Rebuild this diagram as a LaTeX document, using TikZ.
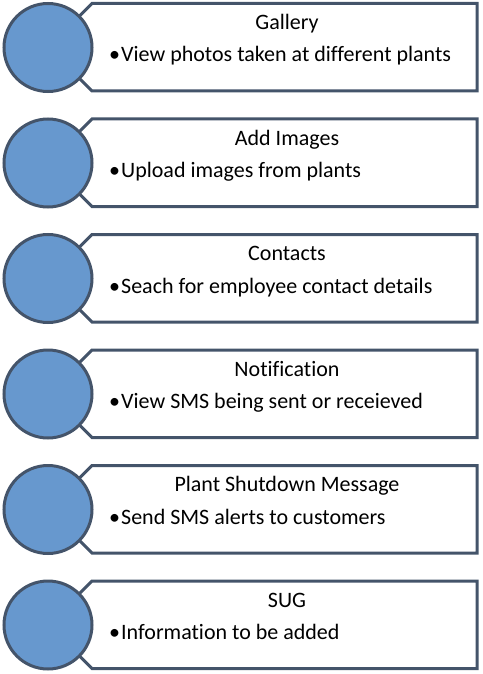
\documentclass[tikz,border=0pt]{standalone}
\usepackage{fontspec}
\setmainfont{Carlito}[Ligatures=NoCommon]
\definecolor{slate}{RGB}{68,84,106}
\definecolor{discblue}{RGB}{103,152,206}
\begin{document}
\begin{tikzpicture}[x=1pt,y=1pt,
  frame/.style={draw=slate, line width=3pt, fill=white, line join=miter},
  disc/.style={circle, draw=slate, line width=3pt, fill=discblue,
    minimum size=88pt, inner sep=0pt},
  heading/.style={anchor=base, font=\fontsize{22}{26}\selectfont, inner sep=0pt},
  item/.style={anchor=base west, font=\fontsize{22}{26}\selectfont, inner sep=0pt}]
\useasboundingbox (0,0) rectangle (482,-674);
\foreach \i/\head/\txt in {
  1/Gallery/View photos taken at different plants,
  2/Add Images/Upload images from plants,
  3/Contacts/Seach for employee contact details,
  4/Notification/View SMS being sent or receieved,
  5/Plant Shutdown Message/Send SMS alerts to customers,
  6/SUG/Information to be added}{
  \pgfmathsetmacro{\yc}{-47.5-(\i-1)*115.5}
  % label box with chamfered left corners, tucked behind the disc
  \draw[frame] (92,\yc+44) -- (477,\yc+44) -- (477,\yc-43.5) -- (92,\yc-43.5)
    -- (60,\yc-11.5) -- (60,\yc+12) -- cycle;
  \node[disc] (c\i) at (48,\yc) {};
  \node[heading] (title\i) at (287,\yc+18) {\head};
  \node[item] (item\i) at (109,\yc-14.5) {\makebox[12pt][l]{•}\txt};
}
\end{tikzpicture}
\end{document}
